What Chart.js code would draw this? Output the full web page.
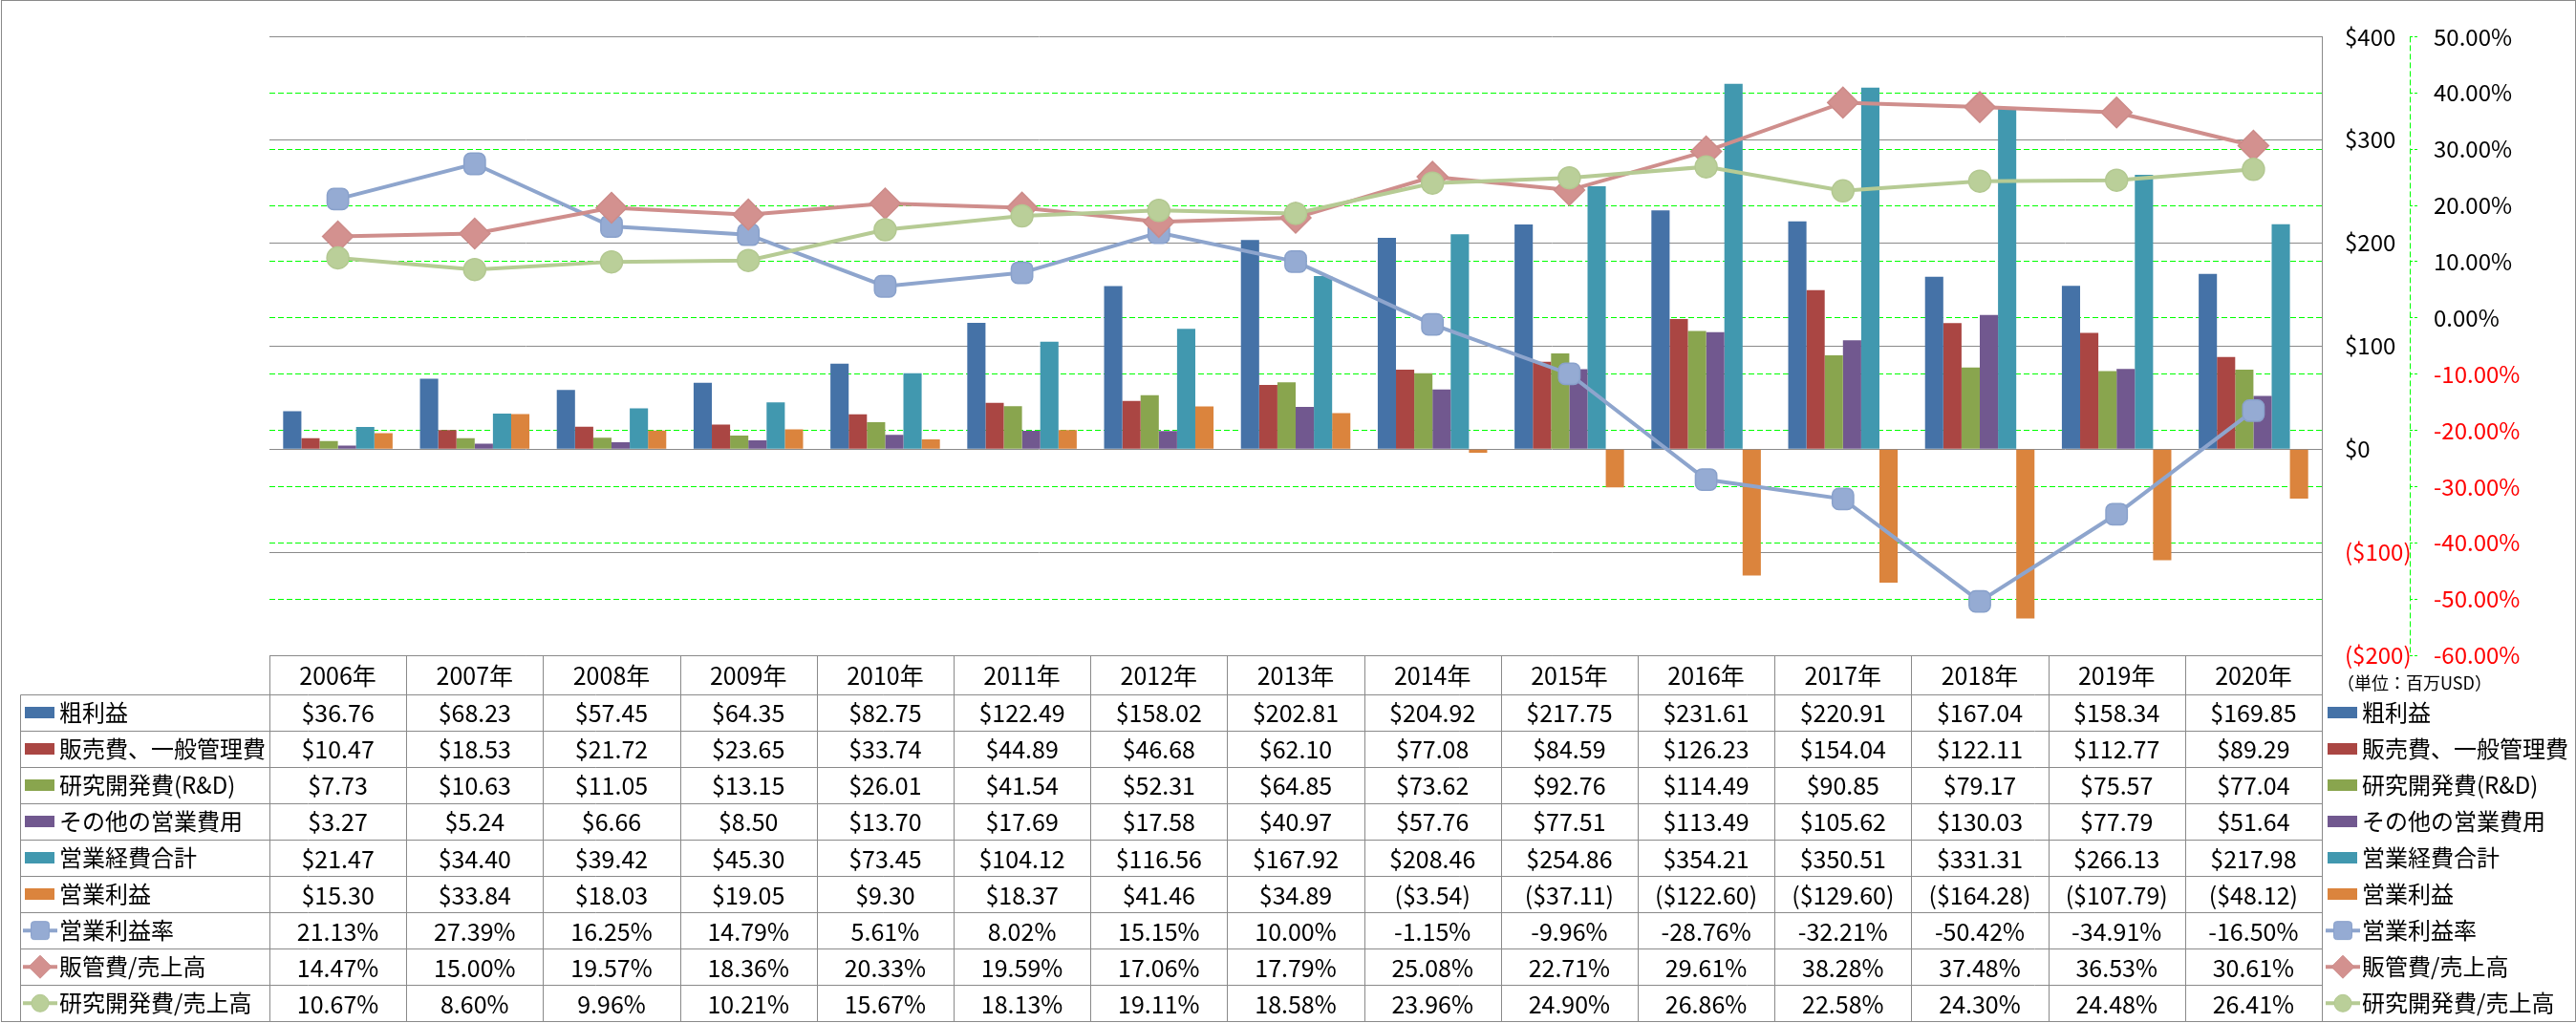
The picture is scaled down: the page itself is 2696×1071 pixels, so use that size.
<!DOCTYPE html>
<html><head><meta charset="utf-8">
<script src="https://cdn.jsdelivr.net/npm/chart.js@4.4.1/dist/chart.umd.min.js"></script>
<style>html,body{margin:0;padding:0;background:#fff}canvas{display:block}</style>
</head><body>
<canvas id="c" width="2696" height="1071"></canvas>
<script>
// ---------------- data ----------------
const categories = ['2006年','2007年','2008年','2009年','2010年','2011年','2012年','2013年','2014年','2015年','2016年','2017年','2018年','2019年','2020年'];
const seriesNames = ['粗利益','販売費、一般管理費','研究開発費(R&D)','その他の営業費用','営業経費合計','営業利益','営業利益率','販管費/売上高','研究開発費/売上高'];
const grossProfit = [36.76, 68.23, 57.45, 64.35, 82.75, 122.49, 158.02, 202.81, 204.92, 217.75, 231.61, 220.91, 167.04, 158.34, 169.85];
const sga         = [10.47, 18.53, 21.72, 23.65, 33.74, 44.89, 46.68, 62.10, 77.08, 84.59, 126.23, 154.04, 122.11, 112.77, 89.29];
const rnd         = [7.73, 10.63, 11.05, 13.15, 26.01, 41.54, 52.31, 64.85, 73.62, 92.76, 114.49, 90.85, 79.17, 75.57, 77.04];
const otherOpex   = [3.27, 5.24, 6.66, 8.50, 13.70, 17.69, 17.58, 40.97, 57.76, 77.51, 113.49, 105.62, 130.03, 77.79, 51.64];
const totalOpex   = [21.47, 34.40, 39.42, 45.30, 73.45, 104.12, 116.56, 167.92, 208.46, 254.86, 354.21, 350.51, 331.31, 266.13, 217.98];
const opIncome    = [15.30, 33.84, 18.03, 19.05, 9.30, 18.37, 41.46, 34.89, -3.54, -37.11, -122.60, -129.60, -164.28, -107.79, -48.12];
const opMargin    = [21.13, 27.39, 16.25, 14.79, 5.61, 8.02, 15.15, 10.00, -1.15, -9.96, -28.76, -32.21, -50.42, -34.91, -16.50];
const sgaRatio    = [14.47, 15.00, 19.57, 18.36, 20.33, 19.59, 17.06, 17.79, 25.08, 22.71, 29.61, 38.28, 37.48, 36.53, 30.61];
const rndRatio    = [10.67, 8.60, 9.96, 10.21, 15.67, 18.13, 19.11, 18.58, 23.96, 24.90, 26.86, 22.58, 24.30, 24.48, 26.41];
const dollarAxis  = {min: -200, max: 400, step: 100};
const percentAxis = {min: -60, max: 50, step: 10};
const unitLabel = '（単位：百万USD）';

// ---------------- styles ----------------
const barSeries = [grossProfit, sga, rnd, otherOpex, totalOpex, opIncome];
const lineSeries = [opMargin, sgaRatio, rndRatio];
const barColors = ['#4572A7','#AA4643','#89A54E','#71588F','#4198AF','#DB843D'];
const lineStyles = [
  {color:'#8EA5CD', fill:'#95ABD3', border:'#89A1CB', point:'rectRounded', r:13, lr:11},
  {color:'#CF8E8C', fill:'#D3918F', border:'#CC8B89', point:'rectRot', r:16, lr:12},
  {color:'#B6CB94', fill:'#BACF99', border:'#B3C891', point:'circle', r:11.5, lr:9}
];
const FONT = "'Noto Sans CJK JP', 'Noto Sans', sans-serif";
const GRAY = '#8A8A8A';

Chart.defaults.font.family = FONT;
Chart.defaults.color = '#000';

const datasets = [];
barSeries.forEach((d, i) => datasets.push({
  type: 'bar', label: seriesNames[i], data: d, yAxisID: 'y',
  backgroundColor: barColors[i], borderWidth: 0,
  categoryPercentage: 0.8, barPercentage: 1.0, order: 3
}));
lineSeries.forEach((d, i) => {
  const s = lineStyles[i];
  datasets.push({
    type: 'line', label: seriesNames[6 + i], data: d, yAxisID: 'y1',
    borderColor: s.color, borderWidth: 4, tension: 0, fill: false,
    pointStyle: s.point, pointRadius: s.r, pointHoverRadius: s.r,
    pointBackgroundColor: s.fill, pointBorderColor: s.border, pointBorderWidth: 1.5,
    order: 2 - i
  });
});

function fmtDollar(v){ return v < 0 ? '($' + (-v).toFixed(2) + ')' : '$' + v.toFixed(2); }
function fmtPct(v){ return v.toFixed(2) + '%'; }

function px(v){ return Math.round(v) + 0.5; }
function line(ctx, x1, y1, x2, y2){ ctx.beginPath(); ctx.moveTo(x1, y1); ctx.lineTo(x2, y2); ctx.stroke(); }

function drawMarker(ctx, type, x, y, r, fill, border){
  ctx.save();
  ctx.fillStyle = fill; ctx.strokeStyle = border; ctx.lineWidth = 1;
  ctx.beginPath();
  if (type === 'circle') {
    ctx.arc(x, y, r, 0, Math.PI * 2);
  } else if (type === 'rectRot') {
    ctx.moveTo(x - r, y); ctx.lineTo(x, y - r); ctx.lineTo(x + r, y); ctx.lineTo(x, y + r); ctx.closePath();
  } else {
    const h = r * 0.86, cr = 3;
    ctx.moveTo(x - h + cr, y - h);
    ctx.arcTo(x + h, y - h, x + h, y + h, cr);
    ctx.arcTo(x + h, y + h, x - h, y + h, cr);
    ctx.arcTo(x - h, y + h, x - h, y - h, cr);
    ctx.arcTo(x - h, y - h, x + h, y - h, cr);
    ctx.closePath();
  }
  ctx.fill(); ctx.stroke();
  ctx.restore();
}

function drawLegendIcon(ctx, i, x, cy){
  if (i < 6) {
    ctx.fillStyle = barColors[i];
    ctx.fillRect(x + 2, Math.round(cy - 6), 31, 12);
  } else {
    const s = lineStyles[i - 6];
    ctx.save();
    ctx.strokeStyle = s.color; ctx.lineWidth = 4;
    line(ctx, x, cy, x + 36, cy);
    ctx.restore();
    drawMarker(ctx, s.point, x + 18, cy, s.lr, s.fill, s.border);
  }
}

const tablePlugin = {
  id: 'tablePlugin',
  beforeDraw(chart){
    const ctx = chart.ctx;
    ctx.save(); ctx.fillStyle = '#fff'; ctx.fillRect(0, 0, chart.width, chart.height); ctx.restore();
  },
  beforeDatasetsDraw(chart){
    const ctx = chart.ctx, ca = chart.chartArea, y1 = chart.scales.y1;
    ctx.save();
    ctx.strokeStyle = '#00FF00'; ctx.lineWidth = 1; ctx.setLineDash([6, 3]);
    line(ctx, px(y1.left), ca.top, px(y1.left), ca.bottom);
    ctx.restore();
  },
  afterDraw(chart){
    const ctx = chart.ctx, ca = chart.chartArea, x = chart.scales.x;
    const colW = x.getPixelForValue(1) - x.getPixelForValue(0);
    const firstEdge = x.getPixelForValue(0) - colW / 2;
    const tableTop = ca.bottom, headerH = 40.7, rowH = 38.07;
    const tableLeft = 21, tableBottom = tableTop + headerH + 9 * rowH;
    const rowsData = [grossProfit, sga, rnd, otherOpex, totalOpex, opIncome, opMargin, sgaRatio, rndRatio];

    ctx.save();
    ctx.strokeStyle = GRAY; ctx.lineWidth = 1;
    line(ctx, ca.left, px(tableTop), ca.right + 0.5, px(tableTop));
    for (let r = 0; r <= 9; r++) {
      const yy = px(tableTop + headerH + r * rowH);
      line(ctx, px(tableLeft), yy, ca.right + 0.5, yy);
    }
    line(ctx, px(tableLeft), px(tableTop + headerH), px(tableLeft), px(tableBottom));
    for (let i = 0; i <= categories.length; i++) {
      const xx = px(firstEdge + i * colW);
      line(ctx, xx, px(tableTop), xx, px(tableBottom));
    }
    line(ctx, px(ca.right), ca.top, px(ca.right), px(tableBottom));

    ctx.fillStyle = '#000';
    ctx.font = '25px ' + FONT;
    ctx.textAlign = 'center'; ctx.textBaseline = 'middle';
    categories.forEach((c, i) => ctx.fillText(c, x.getPixelForValue(i), tableTop + headerH / 2 + 1));

    rowsData.forEach((arr, r) => {
      const cy = tableTop + headerH + r * rowH + rowH / 2;
      ctx.fillStyle = '#000';
      ctx.font = '25px ' + FONT;
      ctx.textAlign = 'center';
      arr.forEach((v, i) => ctx.fillText(r < 6 ? fmtDollar(v) : fmtPct(v), x.getPixelForValue(i), cy + 1));
      ctx.font = '24px ' + FONT;
      drawLegendIcon(ctx, r, 24, cy);
      ctx.fillStyle = '#000';
      ctx.textAlign = 'left';
      ctx.fillText(seriesNames[r], 62, cy);
      drawLegendIcon(ctx, r, ca.right + 4, cy);
      ctx.fillStyle = '#000';
      ctx.fillText(seriesNames[r], ca.right + 42, cy);
    });

    ctx.font = '18px ' + FONT;
    ctx.textAlign = 'left';
    ctx.fillText(unitLabel, ca.right + 16, tableTop + 29);

    ctx.strokeStyle = GRAY;
    ctx.strokeRect(1.5, 0.5, chart.width - 2, chart.height - 2);
    ctx.restore();
  }
};

new Chart(document.getElementById('c'), {
  type: 'bar',
  data: { labels: categories, datasets },
  plugins: [tablePlugin],
  options: {
    responsive: false, animation: false, events: [],
    devicePixelRatio: 1,
    layout: { padding: { left: 282, top: 15, right: 0, bottom: 385 } },
    plugins: { legend: { display: false }, tooltip: { enabled: false } },
    scales: {
      x: { display: false, offset: true, grid: { display: false } },
      y: {
        position: 'right', weight: 0,
        min: dollarAxis.min, max: dollarAxis.max,
        ticks: {
          stepSize: dollarAxis.step, padding: 24,
          font: { size: 24, family: FONT },
          color: c => (c.tick && c.tick.value < 0) ? '#FF0000' : '#000000',
          callback: v => v < 0 ? '($' + (-v) + ')' : '$' + v
        },
        grid: { color: GRAY, lineWidth: 1, drawTicks: false },
        border: { display: true, color: GRAY, width: 1 },
        afterFit: s => { s.width = 92; }
      },
      y1: {
        position: 'right', weight: 1,
        min: percentAxis.min, max: percentAxis.max,
        ticks: {
          stepSize: percentAxis.step, padding: 16,
          font: { size: 24, family: FONT },
          color: c => (c.tick && c.tick.value < 0) ? '#FF0000' : '#000000',
          callback: v => Number(v).toFixed(2) + '%'
        },
        grid: {
          color: c => (c.tick && (c.tick.value === percentAxis.max || c.tick.value === percentAxis.min)) ? 'rgba(0,0,0,0)' : '#00FF00',
          lineWidth: 1, drawTicks: true, tickLength: 9,
          tickColor: '#00FF00', tickBorderDash: [3, 2]
        },
        border: { display: false, dash: [6, 3] },
        afterFit: s => { s.width = 174; }
      }
    }
  }
});
</script>
</body></html>
